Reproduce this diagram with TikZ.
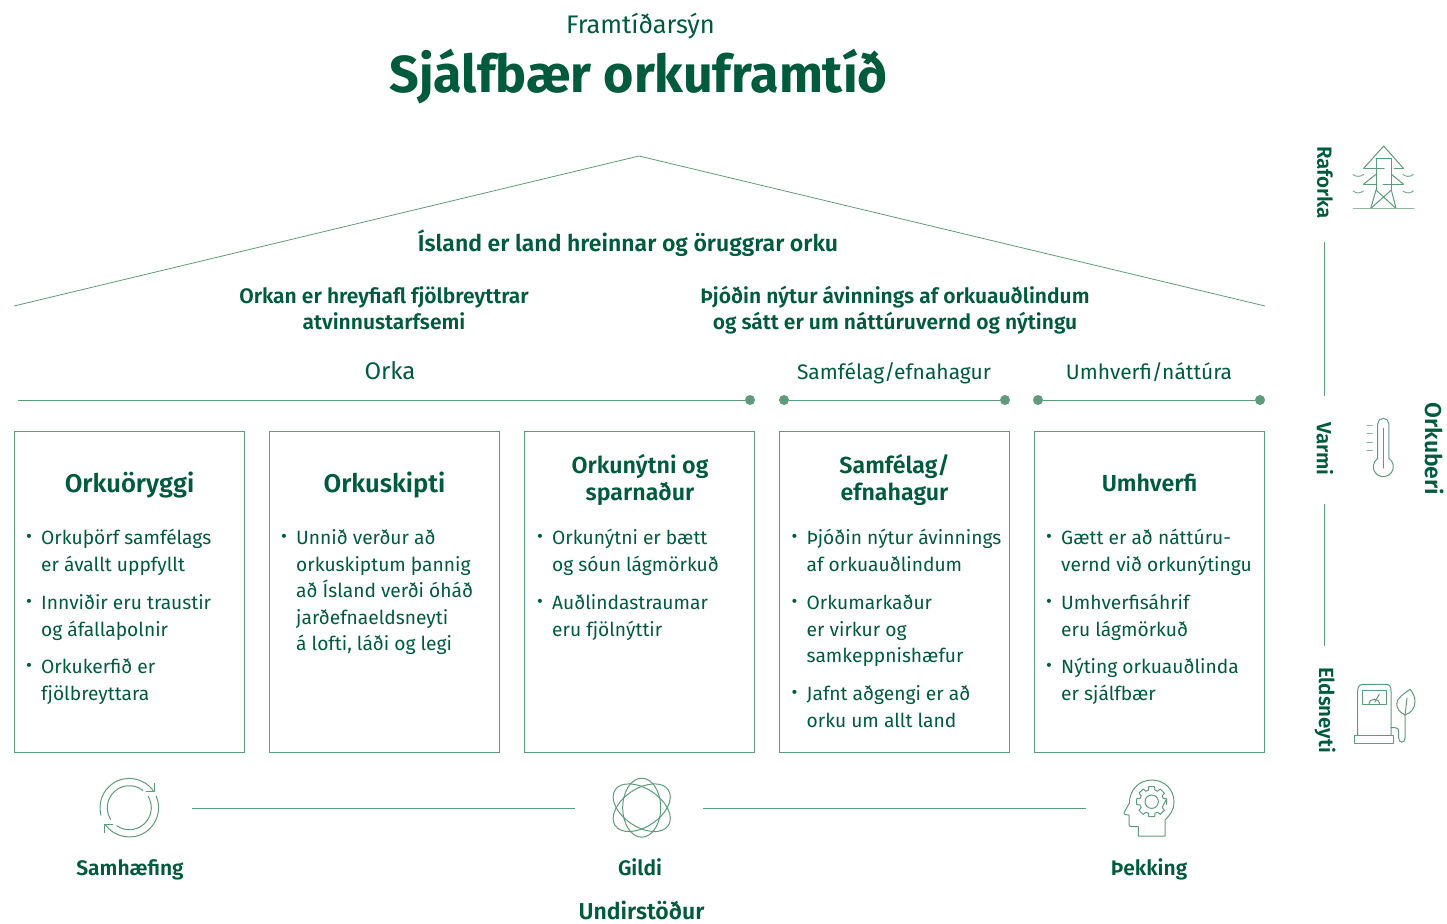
\documentclass[tikz,border=0pt]{standalone}
\usepackage{fontspec}
\setmainfont{Fira Sans}
\newfontfamily\semib{Fira Sans SemiBold}
\newfontfamily\bld{Fira Sans Bold}
\newfontfamily\lite{Fira Sans}
\definecolor{dg}{HTML}{005A3C}
\definecolor{lg}{HTML}{5E9B7C}
\tikzset{
 x=1pt,y=-1pt,
 box/.style={draw=lg,line width=.8pt},
 ln/.style={draw=lg,line width=.8pt},
 ic/.style={draw=lg,line width=1pt,line join=round,line cap=round},
 dot/.style={circle,fill=lg,inner sep=0,minimum size=10pt},
 head/.style={text=dg,font=\fontsize{23.2}{27.5}\semib,align=center,inner sep=0},
 headb/.style={text=dg,font=\fontsize{25.6}{27.5}\semib,align=center,inner sep=0},
 sub/.style={text=dg,font=\fontsize{21}{25.5}\semib,align=center,inner sep=0},
 side/.style={text=dg,font=\fontsize{20.5}{25.5}\semib,inner sep=0,rotate=-90},
 foot/.style={text=dg,font=\fontsize{21}{25.5}\semib,inner sep=0,anchor=base},
 cat/.style={text=dg,font=\fontsize{21}{26}\lite,inner sep=0},
 body/.style={text=dg,font=\fontsize{19.2}{26.6}\lite,inner sep=0,anchor=north west,align=left},
 bul/.style={text=dg,font=\fontsize{18}{18}\lite,inner sep=0},
}
% name, box left x, centre y of first line, text
\newcommand{\bitem}[4]{%
 \node[bul] (#1b) at (#2+15,#3+1) {•};
 \node[body] (#1) at (#2+27,#3-11.3) {\strut #4};}
\begin{document}
\begin{tikzpicture}
\useasboundingbox (0,0) rectangle (1447,923);
\node[cat,font=\fontsize{25.4}{30}\lite] (t1) at (640.5,26) {Framtíðarsýn};
\node[text=dg,font=\fontsize{52}{60}\bld,inner sep=0] (t2) at (638.5,77) {Sjálfbær orkuframtíð};
\coordinate (rl) at (14,306);\coordinate (rt) at (639,156);\coordinate (rr) at (1265,306);
\draw[ln] (rl)--(rt)--(rr);
\node[sub,font=\fontsize{23}{26}\semib] (s1) at (628,243) {Ísland er land hreinnar og öruggrar orku};
\node[sub] (s2) at (384,308) {Orkan er hreyfiafl fjölbreyttrar\\atvinnustarfsemi};
\node[sub] (s3) at (895,310) {Þjóðin nýtur ávinnings af orkuauðlindum\\og sátt er um náttúruvernd og nýtingu};
\node[cat,font=\fontsize{24}{26}\lite] (c1) at (390,371) {Orka};
\node[cat] (c2) at (894,373) {Samfélag/efnahagur};
\node[cat] (c3) at (1149,372) {Umhverfi/náttúra};
\coordinate (a0) at (18,400);
\node[dot] (a1) at (750,400) {};
\node[dot] (b0) at (784,400) {};\node[dot] (b1) at (1005,400) {};
\node[dot] (d0) at (1038,400) {};\node[dot] (d1) at (1260,400) {};
\draw[ln] (a0)--(a1);\draw[ln] (b0)--(b1);\draw[ln] (d0)--(d1);
\foreach \x in {14,269,524,779,1034}
 \draw[box] (\x,431.7) rectangle ++(230.5,320.8);
% headings
\node[headb] (h1) at (129.5,485) {Orkuöryggi};
\node[headb] (h2) at (384.5,485) {Orkuskipti};
\node[head] (h3) at (640,480) {Orkunýtni og\\sparnaður};
\node[head] (h4) at (894.5,480) {Samfélag/\\efnahagur};
\node[head] (h5) at (1149.5,483) {Umhverfi};
% body
\bitem{k1a}{14}{537}{Orkuþörf samfélags\\er ávallt uppfyllt}
\bitem{k1b}{14}{602}{Innviðir eru traustir\\og áfallaþolnir}
\bitem{k1c}{14}{666}{Orkukerfið er\\fjölbreyttara}
\bitem{k2a}{269}{537}{Unnið verður að\\orkuskiptum þannig\\að Ísland verði óháð\\jarðefnaeldsneyti\\á lofti, láði og legi}
\bitem{k3a}{525}{537}{Orkunýtni er bætt\\og sóun lágmörkuð}
\bitem{k3b}{525}{602}{Auðlindastraumar\\eru fjölnýttir}
\bitem{k4a}{779.5}{537}{Þjóðin nýtur ávinnings\\af orkuauðlindum}
\bitem{k4b}{779.5}{602}{Orkumarkaður\\er virkur og\\samkeppnishæfur}
\bitem{k4c}{779.5}{693}{Jafnt aðgengi er að\\orku um allt land}
\bitem{k5a}{1034}{537}{Gætt er að náttúru-\\vernd við orkunýtingu}
\bitem{k5b}{1034}{602}{Umhverfisáhrif\\eru lágmörkuð}
\bitem{k5c}{1034}{666}{Nýting orkuauðlinda\\er sjálfbær}
% bottom
\node[foot] (u1) at (130,875) {Samhæfing};
\node[foot] (u2) at (640,875) {Gildi};
\node[foot] (u3) at (1149,875) {Þekking};
\node[foot,font=\fontsize{23}{26}\semib] (u4) at (641.5,919) {Undirstöður};
\coordinate (l1) at (192,808);\coordinate (l2) at (575,808);\coordinate (l3) at (703,808);\coordinate (l4) at (1086,808);
\draw[ln] (l1)--(l2);\draw[ln] (l3)--(l4);
% side
\node[side] (r1) at (1325,182.5) {Raforka};
\node[side] (r2) at (1325,449) {Varmi};
\node[side] (r3) at (1325,710) {Eldsneyti};
\node[side,font=\fontsize{23}{26}\semib] (r4) at (1435,449) {Orkuberi};
\coordinate (v1) at (1324,242);\coordinate (v2) at (1324,396);\coordinate (v3) at (1324,504);\coordinate (v4) at (1324,646);
\draw[ln] (v1)--(v2);\draw[ln] (v3)--(v4);
% pylon
\draw[ic] (1363.7,168.3)--(1383.7,146)--(1403.3,168.3);
\draw[ic] (1376,158.3)--(1391.3,158.3);
\draw[ic] (1363.7,168.3)--(1384,168.3) (1394,168.3)--(1403.3,168.3);
\draw[ic] (1376,158.3)--(1376,190) (1391.3,158.3)--(1391.3,190);
\draw[ic] (1376,174.3)--(1363.7,184) (1391.3,174.3)--(1403.3,184);
\draw[ic] (1363.7,184)--(1376,184) (1383,184)--(1403.3,184);
\draw[ic] (1376,190)--(1396,208.5) (1391.3,190)--(1370.7,208.5);
\draw[ic] (1376,190)--(1370.7,208.5) (1391.3,190)--(1396,208.5);
\draw[ic,line width=1.3pt,draw=lg!70] (1353.5,208.7)--(1414,208.7);
\foreach \xx/\yy in {1353/174.5,1353/191,1403/174.5,1403/191}
 \draw[ic,draw=lg!80] (\xx,\yy) .. controls (\xx+3,\yy+2.5) and (\xx+7,\yy+2.5) .. (\xx+10.5,\yy);
% thermometer
\begin{scope}[shift={(1383.3,466.7)},y=1pt]
\draw[ic] (-5.65,8.26) -- (-5.65,42.7) arc[start angle=180,end angle=0,radius=5.65pt] -- (5.65,8.26)
 arc[start angle=55.6,end angle=-235.6,radius=10pt];
\draw[ic] (0,38.7)--(0,-1.3);
\end{scope}
\foreach \yy in {425.7,433.7,442,450.3} \draw[ic,draw=lg!70] (1367,\yy)--(1372.3,\yy);
% pump
\draw[ic] (1357.7,735)--(1357.7,691) .. controls (1357.7,686) and (1359.5,684.3) .. (1364,684.3) -- (1385,684.3) .. controls (1389.5,684.3) and (1391,686) .. (1391,691) -- (1391,735);
\draw[ic] (1354.7,735) rectangle (1393.7,743);
\draw[ic] (1362.7,690.7) rectangle (1386,704.3);
\draw[ic] (1369,704.3) .. controls (1369,697.5) and (1379.6,697.5) .. (1379.6,704.3);
\draw[ic] (1375,701.7)--(1379.3,694.3);
\draw[ic] (1391,727.7)--(1395,727.7) .. controls (1397.5,727.7) and (1398.7,729) .. (1398.7,731) -- (1398.7,738) .. controls (1398.7,743.5) and (1405,743.5) .. (1405,738) -- (1405,715);
\draw[ic] (1405,715) .. controls (1399,712) and (1396.7,708) .. (1396.7,703.5) .. controls (1396.7,698) and (1404,694) .. (1410,689.3) .. controls (1414,694) and (1415,698) .. (1415,702) .. controls (1415,708) and (1411,713) .. (1405,715);
\draw[ic] (1405,715)--(1407,698);
% cycle
\begin{scope}[shift={(129.3,807.7)},y=1pt]
\draw[ic] (35:29.3pt) arc[start angle=35,end angle=195,radius=29.3pt];
\draw[ic] (215:29.3pt) arc[start angle=215,end angle=383,radius=29.3pt];
\draw[ic] (52:22pt) arc[start angle=52,end angle=212,radius=22pt];
\draw[ic] (235:22pt) arc[start angle=235,end angle=391,radius=22pt];
\draw[ic] (24.7,24.4)--(24.7,16)--(16.7,16);
\draw[ic] (-25,-25)--(-25,-16.6)--(-16.6,-16.6);
\end{scope}
% atom
\begin{scope}[shift={(641.7,807.7)},y=1pt]
\draw[ic] (0,0) ellipse[x radius=19,y radius=29.5];
\foreach \r in {56,-56}
 \draw[ic,rotate=\r] (0,0) ellipse[x radius=19,y radius=32];
\end{scope}
% head with gear
\draw[ic] (1165,836)--(1138.3,836)--(1138.3,826.7)--(1131.7,826.7) .. controls (1129.5,826.7) and (1129,825.5) .. (1129,824) -- (1129,815) -- (1125,814.5) .. controls (1124,814) and (1123.5,813) .. (1124.3,812) -- (1129.3,803.3) .. controls (1129.5,790) and (1139,780) .. (1151.7,780) .. controls (1165,780) and (1174,790) .. (1174,801.7) .. controls (1174,810) and (1170,815) .. (1165,820) -- cycle;
\begin{scope}[shift={(1151.7,801.7)},y=1pt]
\draw[ic] (0,0) circle[radius=6.7pt];
\draw[ic] (11:15.3pt) \foreach \a in {0,45,...,315}{ -- (\a-11:15.3pt) -- (\a+11:15.3pt) -- (\a+16:12pt) -- (\a+29:12pt)} -- cycle;
\end{scope}
\end{tikzpicture}
\end{document}
